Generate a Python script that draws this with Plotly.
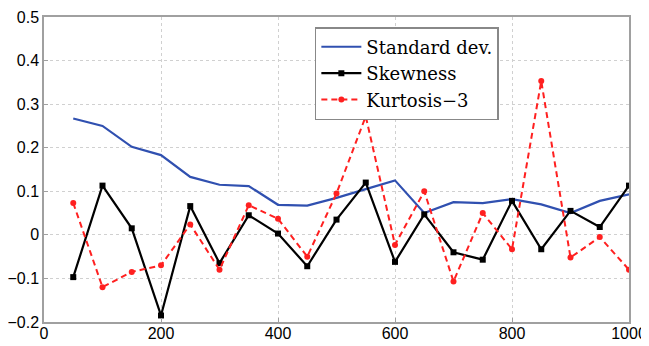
import plotly.graph_objects as go

sample_sizes = [50, 100, 150, 200, 250, 300, 350, 400, 450, 500,
                550, 600, 650, 700, 750, 800, 850, 900, 950, 1000]
std_dev = [0.267, 0.250, 0.202, 0.183, 0.133, 0.115, 0.112, 0.069, 0.067, 0.085,
           0.105, 0.125, 0.050, 0.075, 0.073, 0.082, 0.070, 0.050, 0.078, 0.093]
skewness = [-0.097, 0.113, 0.015, -0.185, 0.066, -0.065, 0.045, 0.003, -0.072, 0.035,
            0.120, -0.062, 0.047, -0.040, -0.057, 0.078, -0.033, 0.055, 0.018, 0.113]
kurtosis = [0.073, -0.120, -0.085, -0.070, 0.024, -0.080, 0.068, 0.037, -0.050, 0.095,
            0.272, -0.023, 0.100, -0.107, 0.050, -0.033, 0.353, -0.052, -0.005, -0.080]

fig = go.Figure()
fig.add_trace(go.Scatter(x=sample_sizes, y=std_dev, mode="lines", name="Standard dev.",
                         line=dict(color="#3050b0", width=2.2)))
fig.add_trace(go.Scatter(x=sample_sizes, y=skewness, mode="lines+markers", name="Skewness",
                         line=dict(color="black", width=2.2),
                         marker=dict(symbol="square", size=6, color="black")))
fig.add_trace(go.Scatter(x=sample_sizes, y=kurtosis, mode="lines+markers", name="Kurtosis\u22123",
                         line=dict(color="#ff2020", width=2, dash="6px,4px"),
                         marker=dict(symbol="circle", size=6, color="#ff2020")))

axis_common = dict(showline=True, linecolor="#a0a0a0", linewidth=1.5, mirror=True,
                   showgrid=True, gridcolor="#d0d0d0", griddash="dot", gridwidth=1,
                   zeroline=False, ticks="inside", ticklen=4, tickcolor="#a0a0a0",
                   automargin=False,
                   tickfont=dict(family="Liberation Sans", size=16, color="black"))

fig.update_layout(
    width=641, height=338,
    margin=dict(l=36, r=20, t=9, b=24),
    paper_bgcolor="white", plot_bgcolor="white",
    xaxis=dict(range=[0, 1000], tickvals=[0, 200, 400, 600, 800, 1000],
               ticklabelstandoff=-4, **axis_common),
    yaxis=dict(range=[-0.2, 0.5], tickvals=[-0.2, -0.1, 0, 0.1, 0.2, 0.3, 0.4, 0.5],
               ticktext=["\u22120.2", "\u22120.1", "0", "0.1", "0.2", "0.3", "0.4", "0.5"],
               **axis_common),
    showlegend=True,
    legend=dict(x=0.463, y=0.967, xanchor="left", yanchor="top",
                bgcolor="white", bordercolor="#888888", borderwidth=1.5,
                font=dict(family="DejaVu Serif, serif", size=18, color="black"),
                tracegroupgap=0, itemwidth=40),
)

fig.write_html("out.html")
